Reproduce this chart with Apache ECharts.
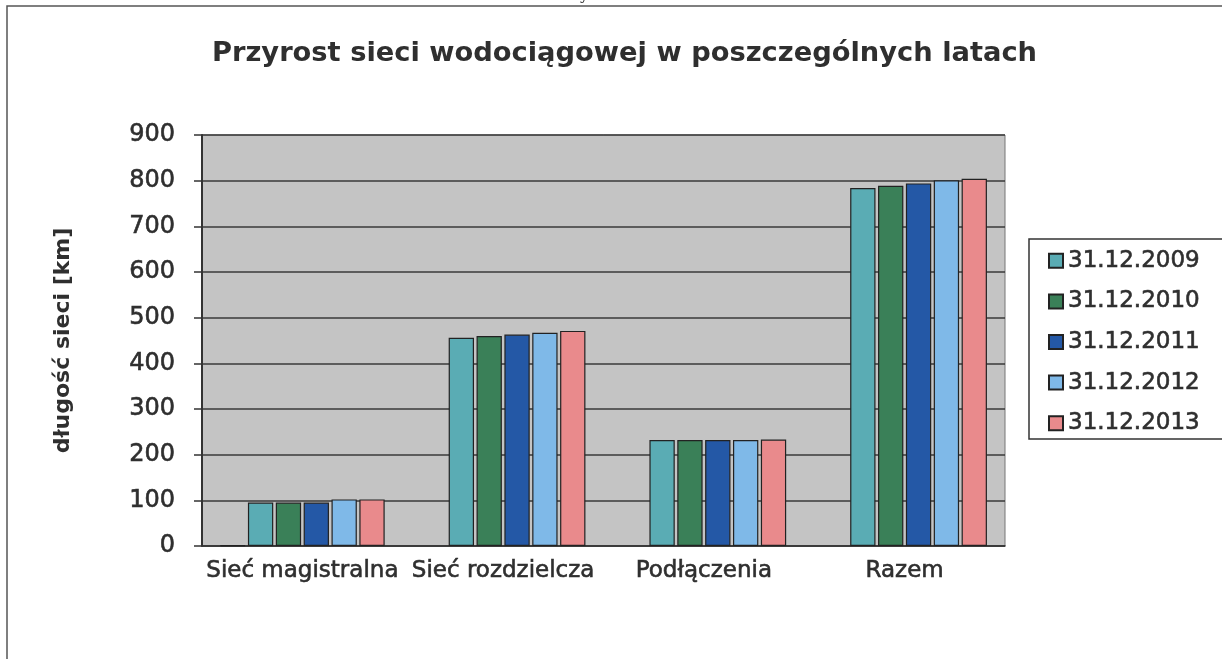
<!DOCTYPE html>
<html>
<head>
<meta charset="utf-8">
<script src="https://cdn.jsdelivr.net/npm/echarts@6/dist/echarts.min.js"></script>
<style>
  html, body { margin: 0; padding: 0; background: #fff; }
  #main { width: 1222px; height: 659px; }
</style>
</head>
<body>
<div id="main"></div>
<script>
// dane
var categories = ['Sieć magistralna', 'Sieć rozdzielcza', 'Podłączenia', 'Razem'];
var yTicks = [0, 100, 200, 300, 400, 500, 600, 700, 800, 900];
var seriesNames = ['31.12.2009', '31.12.2010', '31.12.2011', '31.12.2012', '31.12.2013'];
var hiddenVals = [1.5, null, null, null];   // pusta seria bez legendy (pierwsza kolumna w grupie)
var v2009 = [95, 456, 232, 784];
var v2010 = [95, 460, 232, 789];
var v2011 = [95, 463, 232, 794];
var v2012 = [102, 467, 232, 801];
var v2013 = [102, 471, 233, 804];
var colors = ['#5aacb4', '#3a8058', '#2458a6', '#7fb9e8', '#e98a8c'];

var values = [v2009, v2010, v2011, v2012, v2013];
var txt = '#2f2f2f';
// skan jest "pogrubiony" - lekko pogrubiamy zwykly tekst obrysem
var thick = { textBorderColor: txt, textBorderWidth: 0.6 };

var series = [{
    name: 'brak',
    type: 'bar',
    data: hiddenVals,
    itemStyle: { color: '#333', borderColor: '#222', borderWidth: 1 },
    barGap: '10%',
    barCategoryGap: '18%'
}];
seriesNames.forEach(function (n, i) {
    series.push({
        name: n,
        type: 'bar',
        data: values[i],
        itemStyle: { color: colors[i], borderColor: '#222', borderWidth: 1.2 },
        barGap: '10%',
        barCategoryGap: '18%'
    });
});

var option = {
    animation: false,
    title: {
        text: 'Przyrost sieci wodociągowej w poszczególnych latach',
        left: 207,
        top: 35,
        textStyle: { fontFamily: 'DejaVu Sans', fontWeight: 'bold', fontSize: 27.3, color: txt }
    },
    legend: {
        data: seriesNames,
        orient: 'vertical',
        left: 1029,
        top: 239,
        padding: [10, 30, 4, 19],
        itemWidth: 14,
        itemHeight: 14,
        itemGap: 17,
        icon: 'rect',
        borderColor: '#333',
        borderWidth: 1.5,
        backgroundColor: '#fff',
        textStyle: Object.assign({ fontFamily: 'DejaVu Sans', fontSize: 23, color: txt }, thick)
    },
    grid: {
        left: 202, right: 217, top: 135, bottom: 113,
        show: true,
        backgroundColor: '#c4c4c4',
        borderColor: '#777',
        borderWidth: 1
    },
    xAxis: {
        type: 'category',
        data: categories,
        axisLine: { lineStyle: { color: '#333', width: 1.5 } },
        axisTick: { length: 7, lineStyle: { color: '#333', width: 1.5 } },
        axisLabel: Object.assign({ fontFamily: 'DejaVu Sans', fontSize: 23, color: txt, margin: 14, interval: 0 }, thick)
    },
    yAxis: {
        type: 'value',
        min: yTicks[0],
        max: yTicks[yTicks.length - 1],
        interval: 100,
        name: 'długość sieci [km]',
        nameLocation: 'middle',
        nameGap: 128,
        nameTextStyle: { fontFamily: 'DejaVu Sans', fontWeight: 'bold', fontSize: 22, color: txt },
        axisLine: { show: true, lineStyle: { color: '#333', width: 2 } },
        axisTick: { show: true, length: 8, lineStyle: { color: '#333', width: 1.5 } },
        axisLabel: Object.assign({ fontFamily: 'DejaVu Sans', fontSize: 24, color: txt, margin: 27 }, thick),
        splitLine: { lineStyle: { color: '#3a3a3a', width: 1.5 } }
    },
    graphic: [
        {
            type: 'rect',
            shape: { x: 7, y: 6, width: 1240, height: 700 },
            style: { fill: 'none', stroke: '#555', lineWidth: 1.5 },
            silent: true
        },
        {
            type: 'text',
            left: 565,
            top: -11,
            style: { text: 'Wykres 5', font: '15px "DejaVu Serif"', fill: '#333' },
            silent: true
        }
    ],
    series: series
};

var myChart = echarts.init(document.getElementById('main'));
myChart.setOption(option);
</script>
</body>
</html>
